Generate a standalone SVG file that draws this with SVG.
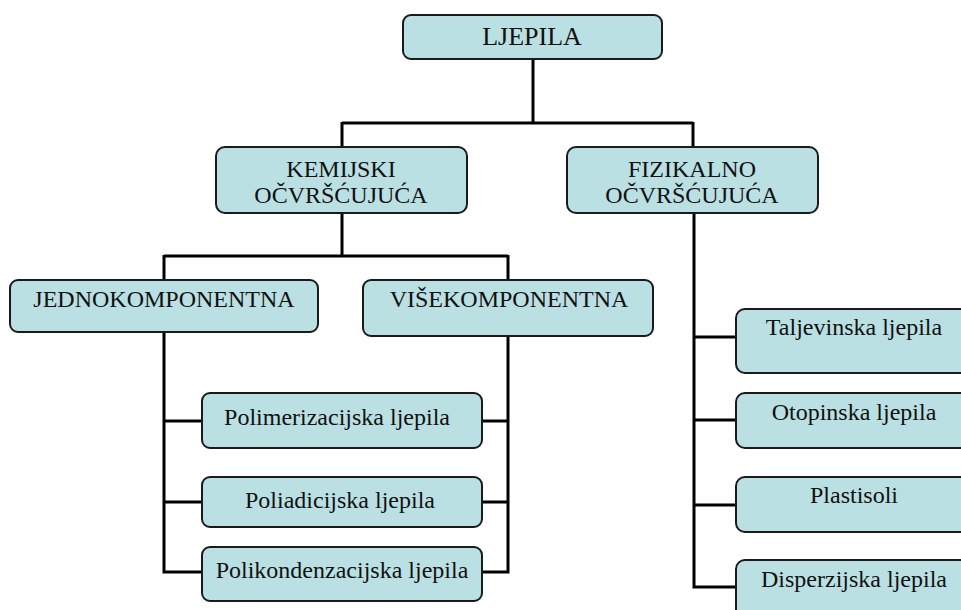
<svg xmlns="http://www.w3.org/2000/svg" width="961" height="610" viewBox="0 0 961 610">
<style>
.box{fill:#BAE0E3;stroke:#1a1a1a;stroke-width:2}
.t{font-family:"Liberation Serif","Times New Roman",serif;font-size:24px;fill:#111;text-anchor:middle}
.big{font-size:26px}
.c{fill:none;stroke:#000;stroke-width:3}
</style>
<rect width="961" height="610" fill="#fff"/>
<g id="connectors">
<path class="c" d="M533 59V123M342 123H693M342 122V147M693 122V147"/>
<path class="c" d="M342 213V256M164 256H508M164 255V280M508 255V280"/>
<path class="c" d="M164 332V572H202M164 421H202M164 502H202"/>
<path class="c" d="M508 336V572H482M508 421H482M508 502H482"/>
<path class="c" d="M694 213V587H736M694 337H736M694 420H736M694 505H736"/>
</g>
<g id="n-ljepila"><rect class="box" x="403" y="15" width="259" height="44" rx="8"/><text class="t big" x="532" y="45">LJEPILA</text></g>
<g id="n-kemijski"><rect class="box" x="216" y="147" width="251" height="66" rx="9"/><text class="t" x="341" y="177">KEMIJSKI</text><text class="t" x="341" y="203">OČVRŠĆUJUĆA</text></g>
<g id="n-fizikalno"><rect class="box" x="567" y="147" width="251" height="66" rx="9"/><text class="t" x="692" y="177">FIZIKALNO</text><text class="t" x="692" y="203">OČVRŠĆUJUĆA</text></g>
<g id="n-jedno"><rect class="box" x="10" y="280" width="308" height="52" rx="8"/><text class="t" x="164" y="307">JEDNOKOMPONENTNA</text></g>
<g id="n-vise"><rect class="box" x="363" y="280" width="290" height="56" rx="8"/><text class="t" x="509" y="307">VIŠEKOMPONENTNA</text></g>
<g id="n-polimer"><rect class="box" x="202" y="393" width="280" height="55" rx="8"/><text class="t" x="337" y="425">Polimerizacijska ljepila</text></g>
<g id="n-poliad"><rect class="box" x="202" y="477" width="280" height="50" rx="8"/><text class="t" x="340" y="508">Poliadicijska ljepila</text></g>
<g id="n-polikon"><rect class="box" x="202" y="547" width="280" height="54" rx="8"/><text class="t" x="342" y="578">Polikondenzacijska ljepila</text></g>
<g id="n-talj"><rect class="box" x="736" y="309" width="236" height="64" rx="9"/><text class="t" x="854" y="335">Taljevinska ljepila</text></g>
<g id="n-otop"><rect class="box" x="736" y="393" width="236" height="55" rx="9"/><text class="t" x="854" y="420">Otopinska ljepila</text></g>
<g id="n-plast"><rect class="box" x="736" y="477" width="236" height="55" rx="9"/><text class="t" x="854" y="503">Plastisoli</text></g>
<g id="n-disp"><rect class="box" x="736" y="560" width="236" height="64" rx="9"/><text class="t" x="854" y="587">Disperzijska ljepila</text></g>
</svg>
